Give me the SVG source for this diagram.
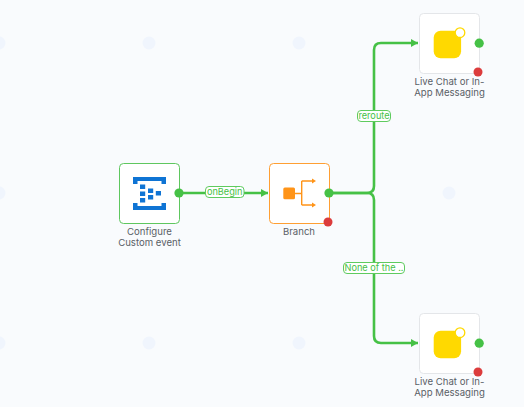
<svg xmlns="http://www.w3.org/2000/svg" width="524" height="407" viewBox="0 0 524 407">
<style>
.bg{fill:#f9fbfd}
.dot{fill:#f0f5fd}
.card{fill:#fff;stroke-width:1}
.edge{fill:none;stroke:#46c146;stroke-width:2.6}
.lblbox{fill:#fff;stroke:#5fcb5f;stroke-width:1}
.lbl{font:9.2px Inter,"Liberation Sans",sans-serif;fill:#46c146;text-anchor:middle}
.name{font:9.6px Inter,"Liberation Sans",sans-serif;fill:#5a6066;text-anchor:middle}
.ok{fill:#46c146}
.err{fill:#dc3c3c}
.chat{fill:#ffd900}
.ring{fill:#fff;stroke:#ffd900;stroke-width:1.3}
.blue{fill:#0f74d4}
.orange{fill:#ff9418}
.bl{fill:none;stroke:#ff9418;stroke-width:1.4}
</style>
<defs>
<marker id="arr" markerUnits="userSpaceOnUse" markerWidth="7" markerHeight="8" refX="7" refY="4" orient="auto"><path d="M0 0L7 4L0 8Z" fill="#46c146"/></marker>
</defs>
<rect class="bg" width="524" height="407"/>
<g id="grid">
<circle class="dot" cx="-1" cy="43" r="6.500"/><circle class="dot" cx="149" cy="43" r="6.500"/><circle class="dot" cx="299" cy="43" r="6.500"/><circle class="dot" cx="449" cy="43" r="6.500"/>
<circle class="dot" cx="-1" cy="193" r="6.500"/><circle class="dot" cx="149" cy="193" r="6.500"/><circle class="dot" cx="299" cy="193" r="6.500"/><circle class="dot" cx="449" cy="193" r="6.500"/>
<circle class="dot" cx="-1" cy="343" r="6.500"/><circle class="dot" cx="149" cy="343" r="6.500"/><circle class="dot" cx="299" cy="343" r="6.500"/><circle class="dot" cx="449" cy="343" r="6.500"/>
</g>
<g id="connectors">
<path class="edge" d="M179 193H268" marker-end="url(#arr)"/>
<path class="edge" d="M329 193H367Q374 193 374 186V50Q374 43 381 43H418" marker-end="url(#arr)"/>
<path class="edge" d="M329 193H367Q374 193 374 200V336Q374 343 381 343H418" marker-end="url(#arr)"/>
<rect class="lblbox" x="205.500" y="186.500" width="38.500" height="11" rx="3.500"/><text class="lbl" x="224.700" y="195.300">onBegin</text>
<rect class="lblbox" x="357.500" y="110.500" width="33" height="11" rx="3.500"/><text class="lbl" x="374" y="119.300">reroute</text>
<rect class="lblbox" x="343.500" y="262.500" width="61" height="11" rx="3.500"/><text class="lbl" x="374" y="271.300">None of the ..</text>
</g>
<g id="node-configure">
<rect class="card" x="119.500" y="163.500" width="60" height="60" rx="4" stroke="#5fc75f"/>
<path class="blue" d="M133 177H166V184H161.500V181H137.500V184H133Z"/>
<path class="blue" d="M133 203H137.500V206H161.500V203H166V210H133Z"/>
<rect class="blue" x="140" y="184.500" width="5.200" height="4.500"/><rect class="blue" x="140" y="191.500" width="5.200" height="4.500"/><rect class="blue" x="140" y="198" width="5.200" height="4.500"/>
<rect class="blue" x="148" y="188.500" width="5.200" height="4.500"/><rect class="blue" x="148" y="195" width="5.200" height="4.500"/><rect class="blue" x="155.800" y="191" width="5.200" height="4.500"/>
<circle class="ok" cx="179" cy="193" r="4.600"/>
<text class="name" x="149.500" y="235">Configure</text><text class="name" x="149.500" y="246">Custom event</text>
</g>
<g id="node-branch">
<rect class="card" x="269.500" y="163.500" width="60" height="60" rx="4" stroke="#ff9f33"/>
<rect class="orange" x="283.300" y="187.500" width="11.700" height="11.700" rx="1.500"/>
<path class="bl" d="M295 193.500H301.700M301.700 181V205M301.700 181H314M301.700 205H314"/>
<path class="orange" d="M312 178.500L316 181L312 183.500ZM312 202.500L316 205L312 207.500Z"/>
<circle class="ok" cx="329" cy="193" r="4.600"/>
<circle class="err" cx="328" cy="222" r="4.500"/>
<text class="name" x="299" y="235">Branch</text>
</g>
<g id="node-chat-top">
<rect class="card" x="419.500" y="13.500" width="60" height="60" rx="4" stroke="#e4e6e9"/>
<rect class="chat" x="433.700" y="30.700" width="27.400" height="27.600" rx="7"/>
<circle class="ring" cx="460" cy="32.700" r="4.800"/>
<circle class="ok" cx="479.200" cy="43.200" r="4.600"/>
<circle class="err" cx="478" cy="72" r="4.500"/>
<text class="name" x="449.500" y="85">Live Chat or In-</text><text class="name" x="449.500" y="96">App Messaging</text>
</g>
<g id="node-chat-bottom">
<rect class="card" x="419.500" y="313.500" width="60" height="60" rx="4" stroke="#e4e6e9"/>
<rect class="chat" x="433.700" y="330.700" width="27.400" height="27.600" rx="7"/>
<circle class="ring" cx="460" cy="332.700" r="4.800"/>
<circle class="ok" cx="479.200" cy="343.200" r="4.600"/>
<circle class="err" cx="478" cy="372" r="4.500"/>
<text class="name" x="449.500" y="385">Live Chat or In-</text><text class="name" x="449.500" y="396">App Messaging</text>
</g>
</svg>
